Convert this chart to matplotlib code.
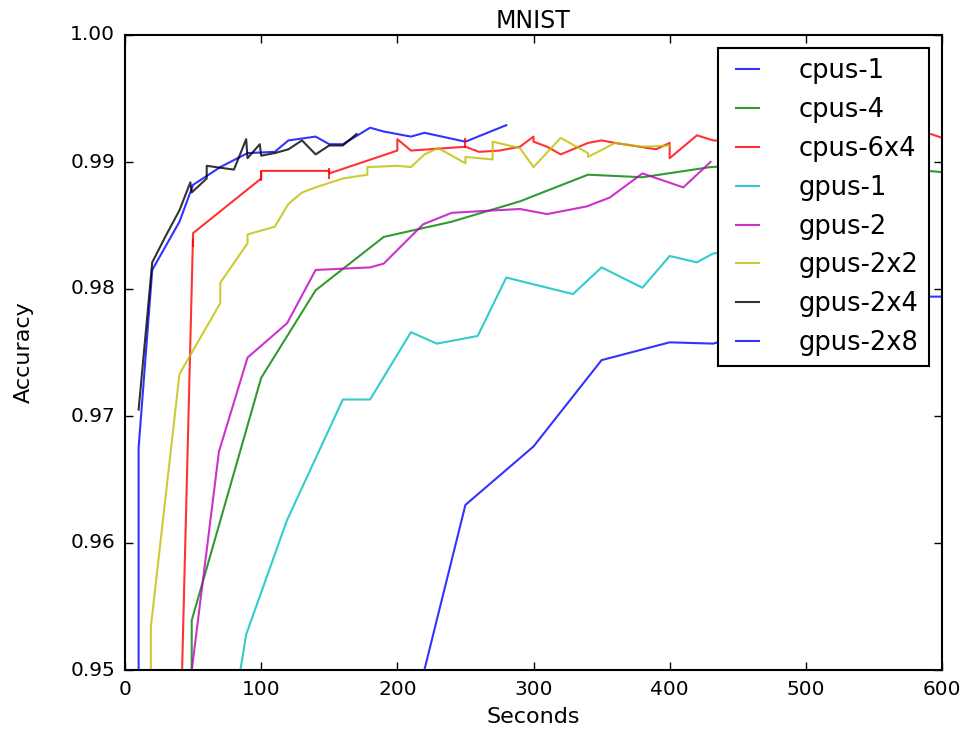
import matplotlib
matplotlib.use("Agg")
import matplotlib.pyplot as plt

# cpus-1
cpus1_t = [10, 10, 20, 40, 50, 70, 90, 110, 120, 140, 150, 160, 180, 190, 210, 220, 250, 280]
cpus1_acc = [0.940, 0.9675, 0.9815, 0.9853, 0.9882, 0.9896, 0.9907, 0.9908, 0.9917, 0.9920,
             0.9914, 0.9914, 0.9927, 0.9924, 0.9920, 0.9923, 0.9916, 0.9929]

# cpus-4
cpus4_t = [49, 49, 100, 140, 190, 240, 290, 340, 380, 430, 480, 530, 590, 600]
cpus4_acc = [0.940, 0.9539, 0.9730, 0.9799, 0.9841, 0.9853, 0.9869, 0.9890, 0.9888, 0.9896,
             0.9899, 0.9896, 0.9893, 0.9892]

# cpus-6x4
cpus64_t = [41.7, 50, 100, 100, 150, 150, 200, 200, 210, 250, 260, 275, 290, 300, 300, 310, 320,
            340, 350, 360, 390, 400, 400, 420, 432, 480, 530, 592, 600]
cpus64_acc = [0.949, 0.9844, 0.9887, 0.9893, 0.9893, 0.9891, 0.9909, 0.9918, 0.9909, 0.9912,
              0.9908, 0.9909, 0.9912, 0.9920, 0.9916, 0.9912, 0.9906, 0.9915, 0.9917, 0.9915,
              0.9910, 0.9915, 0.9903, 0.9921, 0.9917, 0.9915, 0.9918, 0.9922, 0.9919]
# little vertical bars on cpus-6x4
cap_t = [50, 100, 150, 250]
cap_acc = [0.9836, 0.9889, 0.9891, 0.9915]
cap_err = [0.0003, 0.0004, 0.0004, 0.0004]

# gpus-1
gpus1_t = [84, 89, 119, 160, 180, 210, 229, 259, 280, 329, 350, 380, 400, 420, 432, 450]
gpus1_acc = [0.9495, 0.9528, 0.9618, 0.9713, 0.9713, 0.9766, 0.9757, 0.9763, 0.9809, 0.9796,
             0.9817, 0.9801, 0.9826, 0.9821, 0.9828, 0.9830]

# gpus-2
gpus2_t = [48, 69, 90, 119, 140, 180, 190, 219, 240, 290, 310, 339, 356, 380, 410, 430]
gpus2_acc = [0.9491, 0.9672, 0.9746, 0.9773, 0.9815, 0.9817, 0.9820, 0.9851, 0.9860, 0.9863,
             0.9859, 0.9865, 0.9872, 0.9891, 0.9880, 0.9900]

# gpus-2x2
gpus22_t = [19, 19, 40, 70, 70, 90, 90, 110, 120, 130, 140, 160, 178, 178, 200, 210, 220, 230,
            250, 250, 270, 270, 290, 300, 320, 340, 340, 360, 380, 400]
gpus22_acc = [0.940, 0.9534, 0.9733, 0.9789, 0.9805, 0.9836, 0.9843, 0.9849, 0.9867, 0.9876,
              0.9880, 0.9887, 0.9890, 0.9896, 0.9897, 0.9896, 0.9906, 0.9911, 0.9899, 0.9904,
              0.9902, 0.9916, 0.9911, 0.9896, 0.9919, 0.9907, 0.9904, 0.9915, 0.9912, 0.9913]

# gpus-2x4
gpus24_t = [10, 20, 30, 40, 48, 49, 60, 60, 80, 89, 90, 99, 100, 110, 120, 130, 140, 150, 160, 170]
gpus24_acc = [0.9705, 0.9821, 0.9842, 0.9862, 0.9884, 0.9876, 0.9887, 0.9897, 0.9894, 0.9918,
              0.9903, 0.9914, 0.9905, 0.9907, 0.9910, 0.9917, 0.9906, 0.9913, 0.9913, 0.9922]

# gpus-2x8
gpus28_t = [218, 250, 300, 350, 400, 432, 480, 530, 590, 600]
gpus28_acc = [0.9492, 0.9630, 0.9676, 0.9744, 0.9758, 0.9757, 0.9772, 0.9786, 0.9794, 0.9794]

plt.style.use('classic')
plt.rcParams['font.family'] = ['DejaVu Sans']

fig = plt.figure(figsize=(9.64, 7.32), dpi=100, facecolor='white')
ax = fig.add_axes([125 / 964, 1 - 670 / 732, 817 / 964, 635 / 732])

lw = 1.5
al = 0.8
ax.plot(cpus1_t, cpus1_acc, color='b', lw=lw, alpha=al, label='cpus-1')
ax.plot(cpus4_t, cpus4_acc, color='g', lw=lw, alpha=al, label='cpus-4')
ax.plot(cpus64_t, cpus64_acc, color='r', lw=lw, alpha=al, label='cpus-6x4')
ax.errorbar(cap_t, cap_acc, yerr=cap_err, fmt='none', ecolor='r', elinewidth=lw, alpha=al, capsize=0)
ax.plot(gpus1_t, gpus1_acc, color='c', lw=lw, alpha=al, label='gpus-1')
ax.plot(gpus2_t, gpus2_acc, color='m', lw=lw, alpha=al, label='gpus-2')
ax.plot(gpus22_t, gpus22_acc, color='y', lw=lw, alpha=al, label='gpus-2x2')
ax.plot(gpus24_t, gpus24_acc, color='k', lw=lw, alpha=al, label='gpus-2x4')
ax.plot(gpus28_t, gpus28_acc, color='b', lw=lw, alpha=al, label='gpus-2x8')

ax.set_xlim(0, 600)
ax.set_ylim(0.95, 1.00)
ax.set_xticks([0, 100, 200, 300, 400, 500, 600])
ax.set_yticks([0.95, 0.96, 0.97, 0.98, 0.99, 1.00])
ax.set_yticklabels(['0.95', '0.96', '0.97', '0.98', '0.99', '1.00'])
ax.tick_params(labelsize=14.5, length=6, width=1, pad=7)
for s in ax.spines.values():
    s.set_linewidth(1.5)

ax.set_xlabel('Seconds', fontsize=16, labelpad=6)
ax.set_ylabel('Accuracy', fontsize=16, labelpad=26)
ax.set_title('MNIST', fontsize=17, pad=5)

leg = ax.legend(loc='upper right', fontsize=18.5, labelspacing=0.5, handlelength=1.5,
                handletextpad=1.25, borderaxespad=0.5, borderpad=0.4)
leg.get_frame().set_linewidth(1.5)
for line in leg.get_lines():
    line.set_linewidth(1.5)

fig.savefig('out.png', dpi=100, facecolor='white')
